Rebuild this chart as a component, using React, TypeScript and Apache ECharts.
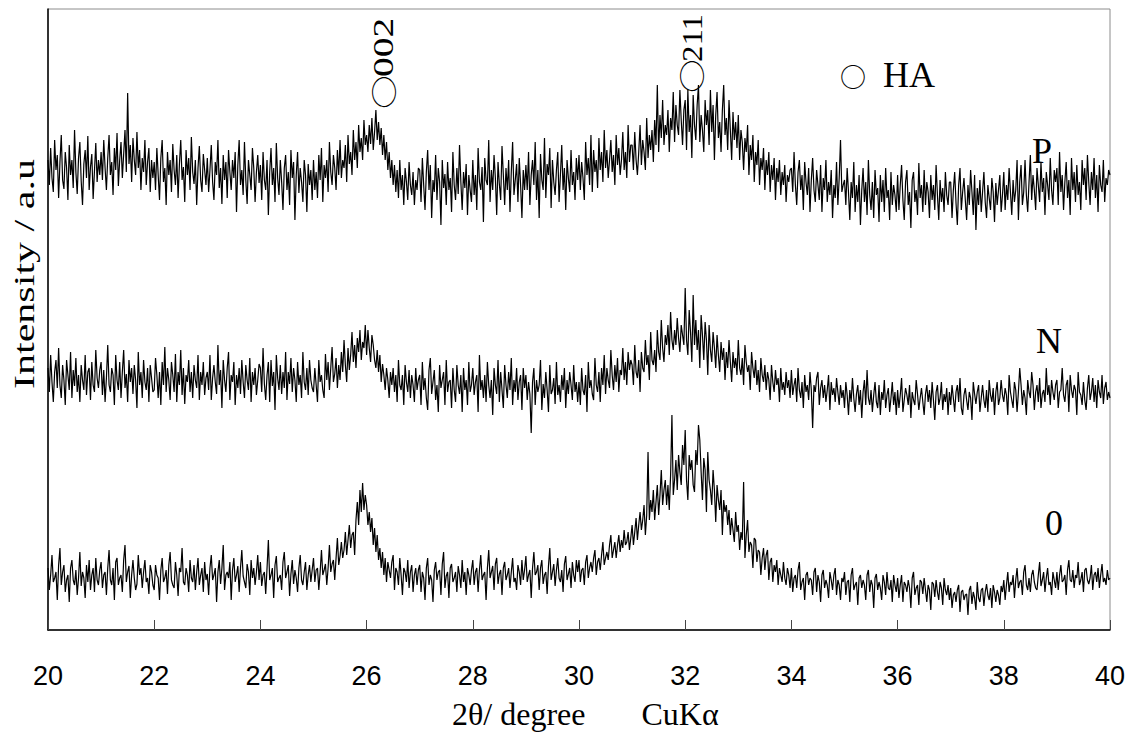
import React, { useEffect, useRef } from "react";
import * as echarts from "echarts";

// 2θ scan from 20° to 40°: one row of readings per degree (evenly spaced within the degree)
const START = 20;

const xMin = 20;
const xMax = 40;
const xInterval = 2;

// Sample "P" (top trace), intensity in a.u.
const rowsP: number[][] = [
  [470,445,482,452,438,490,460,475,432,468,495,450,441,478,462,430,485,455,470,442,
   500,458,436,472,488,449,425,466,480,452,494,440,463,476,431,459,487,448,470,455],
  [478,450,490,462,440,472,495,455,468,435,482,460,497,444,470,488,452,476,500,458,
   537,466,485,448,492,470,455,498,462,480,440,472,458,490,445,468,482,438,470,452],
  [468,440,482,455,430,472,490,448,462,425,478,455,470,438,486,460,445,475,432,466,
   490,450,463,428,480,455,472,440,493,458,446,470,425,462,484,450,438,476,460,445],
  [472,438,460,485,448,430,468,455,490,442,462,426,475,450,468,432,480,458,440,470,
   452,478,418,465,490,445,460,435,488,450,426,470,455,440,482,462,428,458,475,447],
  [465,430,478,450,440,470,415,458,482,445,462,428,487,452,435,470,448,420,462,475,
   440,458,425,480,452,468,410,455,478,437,462,448,428,470,455,418,466,445,460,430],
  [470,440,458,432,475,450,482,428,465,452,470,438,488,458,445,475,462,440,480,455,
   490,452,470,462,485,448,495,466,478,455,500,470,488,462,505,478,492,470,510,485],
  [495,478,505,486,512,480,498,520,490,508,485,502,475,495,470,488,460,478,452,470,
   445,465,438,460,432,470,440,455,425,462,448,430,468,445,435,458,425,450,440,462],
  [460,428,472,445,420,458,480,440,465,412,450,438,475,430,462,448,405,470,442,456,
   425,468,440,452,418,478,445,430,462,436,485,448,420,458,442,466,415,455,440,428],
  [470,435,455,420,482,448,440,463,408,472,450,445,490,428,460,440,475,452,415,468,
   446,430,484,455,425,462,440,470,418,458,488,435,450,466,428,472,445,412,460,440],
  [465,440,478,425,455,470,445,488,430,460,412,476,450,440,492,432,466,455,482,422,
   470,448,435,460,478,428,455,485,440,462,420,470,452,438,480,445,458,430,472,450],
  [475,440,468,452,430,488,455,472,445,495,438,480,458,470,442,492,460,478,448,500,
   462,480,452,470,490,458,475,445,495,465,482,455,470,498,460,478,452,505,468,485],
  [485,460,498,470,455,478,505,465,490,478,460,512,472,495,480,500,468,510,485,545,
   478,515,492,530,485,505,495,520,478,512,500,538,488,525,505,495,540,510,485,520],
  [530,480,540,498,515,472,535,505,490,525,545,488,515,500,478,530,505,520,485,540,
   498,525,470,515,538,492,508,478,520,545,495,512,480,530,500,470,518,490,508,482],
  [515,470,500,488,460,492,478,505,455,485,470,495,448,478,465,490,445,472,460,482,
   440,470,455,478,438,465,450,472,430,462,448,470,435,458,445,465,428,455,448,460],
  [462,438,478,445,425,458,470,440,455,420,468,448,435,462,418,450,472,440,428,460,
   445,430,465,418,452,440,470,428,448,435,460,412,445,432,468,425,452,490,438,445],
  [450,425,462,438,410,448,432,468,418,445,428,455,405,440,462,428,448,415,470,435,
   420,448,412,460,435,442,408,455,428,450,418,462,432,440,410,458,425,445,435,418],
  [455,420,445,465,430,410,448,460,425,438,402,450,458,428,440,415,467,432,445,418,
   460,425,448,438,412,455,430,445,420,465,435,410,450,428,442,418,458,435,425,448],
  [448,412,440,458,427,405,445,462,420,438,452,430,410,445,425,460,438,415,455,400,
   442,425,450,418,438,458,428,412,445,432,420,452,438,408,447,425,440,455,418,435],
  [458,420,445,430,462,438,415,450,428,440,470,410,448,465,425,438,470,435,418,448,
   475,430,455,440,420,462,445,428,468,438,452,415,458,445,430,472,440,425,460,448],
  [462,425,478,438,455,420,448,468,432,450,415,472,440,458,428,465,435,448,420,470,
   445,462,430,475,448,425,458,440,472,432,455,418,465,445,438,470,428,452,445,460],
];
const endP = 455;

// Sample "N" (middle trace)
const rowsN: number[][] = [
  [262,238,275,248,228,258,270,242,282,245,232,265,250,225,270,255,240,278,232,260,
   244,272,238,255,228,265,250,240,275,235,258,262,230,268,245,238,280,252,242,260],
  [268,235,260,228,252,285,245,238,262,255,225,275,250,240,268,232,258,280,242,256,
   228,270,248,262,236,265,250,222,278,245,258,232,270,248,240,262,228,265,252,238],
  [240,272,255,232,258,225,268,245,283,238,262,250,230,268,255,238,276,228,258,245,
   280,235,262,226,255,248,270,238,258,232,265,250,242,275,230,258,245,268,235,252],
  [258,240,275,230,252,265,248,236,285,245,260,222,270,250,238,262,278,230,255,248,
   268,225,255,242,262,236,270,248,232,265,250,240,272,228,258,245,262,235,250,266],
  [262,238,282,246,230,255,268,228,270,244,258,220,275,252,240,265,236,258,242,278,
   230,258,246,272,238,262,250,228,268,245,255,232,278,248,240,262,235,270,250,242],
  [238,262,245,228,270,248,255,240,232,276,250,268,240,262,283,248,256,272,242,265,
   250,278,258,290,265,248,282,260,275,298,268,285,262,292,278,300,270,288,282,305],
  [275,300,282,268,295,285,270,262,280,258,275,248,266,255,240,262,250,232,258,245,
   262,238,255,228,270,245,240,255,225,265,248,238,260,232,255,245,228,262,240,250],
  [255,225,268,240,252,232,220,260,272,236,248,260,230,245,218,265,242,250,258,225,
   270,238,248,250,222,262,240,228,265,245,236,255,218,262,240,250,225,268,238,245],
  [262,235,248,255,218,275,240,250,232,255,228,268,245,232,250,215,262,245,236,270,
   228,258,240,222,265,245,232,258,240,272,225,250,238,262,230,248,255,220,262,242],
  [255,230,248,236,197,248,262,225,250,238,245,270,220,246,232,258,240,218,265,236,
   240,252,226,268,235,245,228,255,240,262,222,250,236,258,245,230,265,238,248,228],
  [248,225,262,240,235,255,218,268,242,250,236,230,272,245,238,258,228,262,245,275,
   236,262,250,242,280,255,240,265,248,272,238,260,255,282,250,268,245,278,260,270],
  [265,245,285,258,252,270,238,278,262,258,290,265,275,250,298,270,265,280,258,300,
   278,270,310,282,268,295,285,305,275,318,290,280,300,285,312,292,278,305,295,285],
  [342,290,275,320,298,268,335,285,310,280,300,262,315,295,270,308,290,255,305,280,
   268,298,282,262,295,275,258,288,270,282,250,278,262,290,268,248,278,262,272,255],
  [290,262,255,272,245,285,268,258,265,240,278,262,252,270,245,260,238,272,255,248,
   265,240,258,250,230,265,248,238,260,245,252,228,262,240,248,235,258,242,250,232],
  [260,235,245,252,228,262,240,232,248,222,255,238,245,230,258,240,202,245,238,252,
   258,225,242,250,232,245,228,240,255,220,248,235,242,228,252,238,225,245,232,240],
  [222,248,235,215,240,228,252,232,218,236,245,225,240,212,238,250,225,260,232,225,
   240,218,235,248,228,222,245,215,238,230,250,222,235,242,218,232,248,225,238,215],
  [240,222,235,252,218,230,242,235,225,245,212,238,230,225,250,236,220,232,242,228,
   215,236,245,228,240,222,248,230,210,238,245,225,232,248,220,236,228,242,215,238],
  [225,245,232,218,238,245,228,252,222,215,235,242,230,220,238,232,210,248,236,226,
   238,245,218,232,245,230,222,240,218,250,235,228,242,215,238,248,225,232,250,235],
  [228,242,235,215,255,238,230,222,248,240,218,238,262,245,225,240,232,215,250,238,
   232,258,245,220,238,245,228,252,222,236,240,228,262,235,245,225,250,238,230,245],
  [250,222,238,240,262,235,228,245,250,218,255,240,232,245,240,215,258,238,235,225,
   248,230,220,242,255,230,238,252,228,245,222,250,238,232,255,226,242,248,230,238],
];
const endN = 232;

// Sample "0" (bottom trace)
const rows0: number[][] = [
  [62,40,55,75,48,52,58,30,65,82,45,58,65,38,50,55,28,62,70,50,
   45,60,35,52,78,44,58,52,32,65,48,70,40,55,62,38,72,50,45,60],
  [68,42,55,58,35,62,80,50,45,62,30,68,72,45,52,55,38,70,85,48,
   58,64,32,55,70,52,40,46,75,55,62,42,58,70,48,52,36,65,58,45],
  [40,65,55,52,30,60,72,48,52,60,36,65,78,50,45,42,68,55,34,62,
   58,82,48,45,62,55,38,70,52,48,65,40,58,72,45,55,62,38,68,50],
  [56,35,62,75,50,55,62,28,58,70,46,62,85,40,55,58,52,68,30,60,
   72,48,55,64,38,62,80,54,48,42,66,58,35,70,52,62,45,58,75,50],
  [68,44,55,58,36,62,90,50,55,62,32,65,74,48,52,55,40,68,78,52,
   58,65,34,56,70,46,60,52,38,62,75,50,45,58,68,40,55,65,48,60],
  [72,48,60,62,40,58,80,55,60,66,45,62,85,58,66,70,50,72,92,65,
   74,88,72,80,98,75,90,105,82,95,98,75,110,128,105,140,118,147,120,135],
  [125,105,118,98,112,85,102,78,95,70,82,62,78,55,72,48,68,60,52,68,
   75,40,62,58,45,72,55,35,62,58,48,70,42,58,65,38,55,62,45,60],
  [65,38,58,52,30,62,72,45,55,50,28,60,68,50,58,60,35,66,78,42,
   54,58,32,62,66,48,52,58,38,64,55,42,70,48,58,35,62,55,45,60],
  [70,45,58,62,38,60,75,50,55,58,30,62,80,52,58,64,40,66,72,46,
   56,60,35,62,68,50,55,62,42,58,72,48,52,40,65,58,45,70,50,60],
  [74,48,55,60,32,62,78,55,58,65,40,62,70,46,55,58,36,64,82,50,
   58,66,44,60,72,52,48,60,38,66,74,50,56,62,42,68,55,48,70,58],
  [70,48,60,62,45,68,75,52,62,68,58,72,80,55,68,72,60,75,88,65,
   72,78,70,85,95,72,80,88,72,85,95,78,90,82,100,85,88,98,80,92],
  [105,85,98,112,90,105,118,100,110,125,95,115,178,110,130,118,140,110,128,145,
   115,135,160,125,140,150,125,145,120,155,215,135,150,170,140,175,158,145,185,165],
  [200,150,130,175,160,170,145,138,180,165,205,190,158,130,172,160,118,178,150,140,
   125,160,140,108,145,130,120,140,95,130,118,125,105,120,95,112,100,88,118,98],
  [105,80,98,90,148,72,95,110,78,88,85,62,92,90,68,80,78,55,72,82,
   60,75,80,50,68,72,48,65,58,70,45,62,55,48,68,52,45,62,55,42],
  [62,38,52,55,42,60,68,40,48,52,30,55,58,45,52,50,35,58,62,38,
   55,48,28,55,60,42,50,45,32,58,50,40,55,62,35,50,45,30,52,48],
  [58,35,48,50,28,55,62,40,45,48,25,52,55,42,50,45,30,55,60,38,
   50,45,22,52,56,40,48,42,30,55,48,35,58,42,40,50,28,55,45,38],
  [52,32,45,55,28,48,45,38,50,42,22,52,58,35,42,45,25,50,48,36,
   52,40,28,45,40,20,48,46,33,50,38,30,48,42,25,52,40,35,45,30],
  [42,22,35,38,28,40,45,18,38,40,30,35,36,15,40,44,26,38,32,20,
   48,32,28,40,42,24,38,46,35,30,42,22,45,38,28,40,35,25,44,38],
  [50,30,45,58,38,48,45,55,32,50,62,42,48,50,35,58,65,45,40,52,
   38,55,60,48,42,40,55,68,44,50,58,38,52,62,45,48,35,58,50,42],
  [58,40,55,65,48,50,55,35,60,70,50,48,60,42,55,52,68,45,50,58,
   38,60,62,50,46,52,65,40,55,58,48,62,42,55,66,48,52,45,60,50],
];
const end0 = 52;

const SERIF = "'Liberation Serif', 'Times New Roman', serif";
const SANS = "'Liberation Sans', Arial, sans-serif";
const CIRCLE = "'Noto Sans CJK JP', 'Noto Sans CJK SC', sans-serif";

function toPairs(rows: number[][], last: number) {
  const pts: number[][] = [];
  rows.forEach((row, r) => {
    row.forEach((v, j) => {
      pts.push([+(START + r + j / row.length).toFixed(4), v]);
    });
  });
  pts.push([START + rows.length, last]);
  return pts;
}

function txt(
  text: string,
  x: number,
  y: number,
  fontSize: number,
  align: string,
  extra: any = {},
  family: string = SERIF
) {
  return {
    type: "text",
    x,
    y,
    z: 100,
    ...extra,
    style: {
      text,
      fontSize,
      fontFamily: family,
      fill: "#000",
      align,
      verticalAlign: "middle",
      textAlign: align,
      textVerticalAlign: "middle",
    },
  };
}

const ROT = Math.PI / 2;

export default function App() {
  const ref = useRef<HTMLDivElement>(null);

  useEffect(() => {
    if (!ref.current) return;
    const chart = echarts.init(ref.current, null, { renderer: "svg" });
    const lineSeries = (name: string, rows: number[][], last: number) => ({
      name,
      type: "line",
      data: toPairs(rows, last),
      showSymbol: false,
      symbol: "none",
      lineStyle: { color: "#000", width: 1.2 },
      itemStyle: { color: "#000" },
      silent: true,
    });
    chart.setOption({
      animation: false,
      backgroundColor: "#fff",
      grid: {
        left: 48,
        right: 23,
        top: 9,
        bottom: 112,
        show: true,
        borderColor: "#8c8c8c",
        borderWidth: 1,
      },
      xAxis: {
        type: "value",
        min: xMin,
        max: xMax,
        interval: xInterval,
        axisLine: { show: true, lineStyle: { color: "#000", width: 1.5 } },
        axisTick: { show: true, inside: true, length: 10, lineStyle: { color: "#444", width: 1 } },
        axisLabel: {
          margin: 32,
          fontSize: 27,
          fontFamily: SANS,
          color: "#000",
        },
        splitLine: { show: false },
      },
      yAxis: {
        type: "value",
        min: 0,
        max: 621,
        axisLine: { show: true, lineStyle: { color: "#000", width: 1.5 } },
        axisTick: { show: false },
        axisLabel: { show: false },
        splitLine: { show: false },
      },
      series: [
        lineSeries("P", rowsP, endP),
        lineSeries("N", rowsN, endN),
        lineSeries("0", rows0, end0),
      ],
      graphic: [
        txt("P", 1042, 151, 36, "center"),
        txt("N", 1049, 341, 36, "center"),
        txt("0", 1054, 523, 36, "center"),
        txt("\u25CB", 853, 75, 26, "center", {}, CIRCLE),
        txt("HA", 883, 75, 36, "left"),
        txt("\u25CB", 383, 92, 26, "center", { rotation: ROT, scaleX: 1.3 }, CIRCLE),
        txt("002", 383, 77, 29, "left", { rotation: ROT, scaleX: 1.36 }),
        txt("\u25CB", 691, 76, 26, "center", { rotation: ROT, scaleX: 1.3 }, CIRCLE),
        txt("211", 692, 62, 29, "left", { rotation: ROT, scaleX: 1.13 }),
        txt("Intensity / a.u", 24, 274, 29, "center", { rotation: ROT, scaleX: 1.45 }),
        txt("2\u03B8/ degree\u00A0\u00A0\u00A0\u00A0\u00A0\u00A0\u00A0CuK\u03B1", 452, 714, 32, "left"),
      ],
    });
    return () => chart.dispose();
  }, []);

  return (
    <div
      ref={ref}
      style={{ position: "fixed", left: 0, top: 0, width: 1133, height: 742, background: "#fff" }}
    />
  );
}
